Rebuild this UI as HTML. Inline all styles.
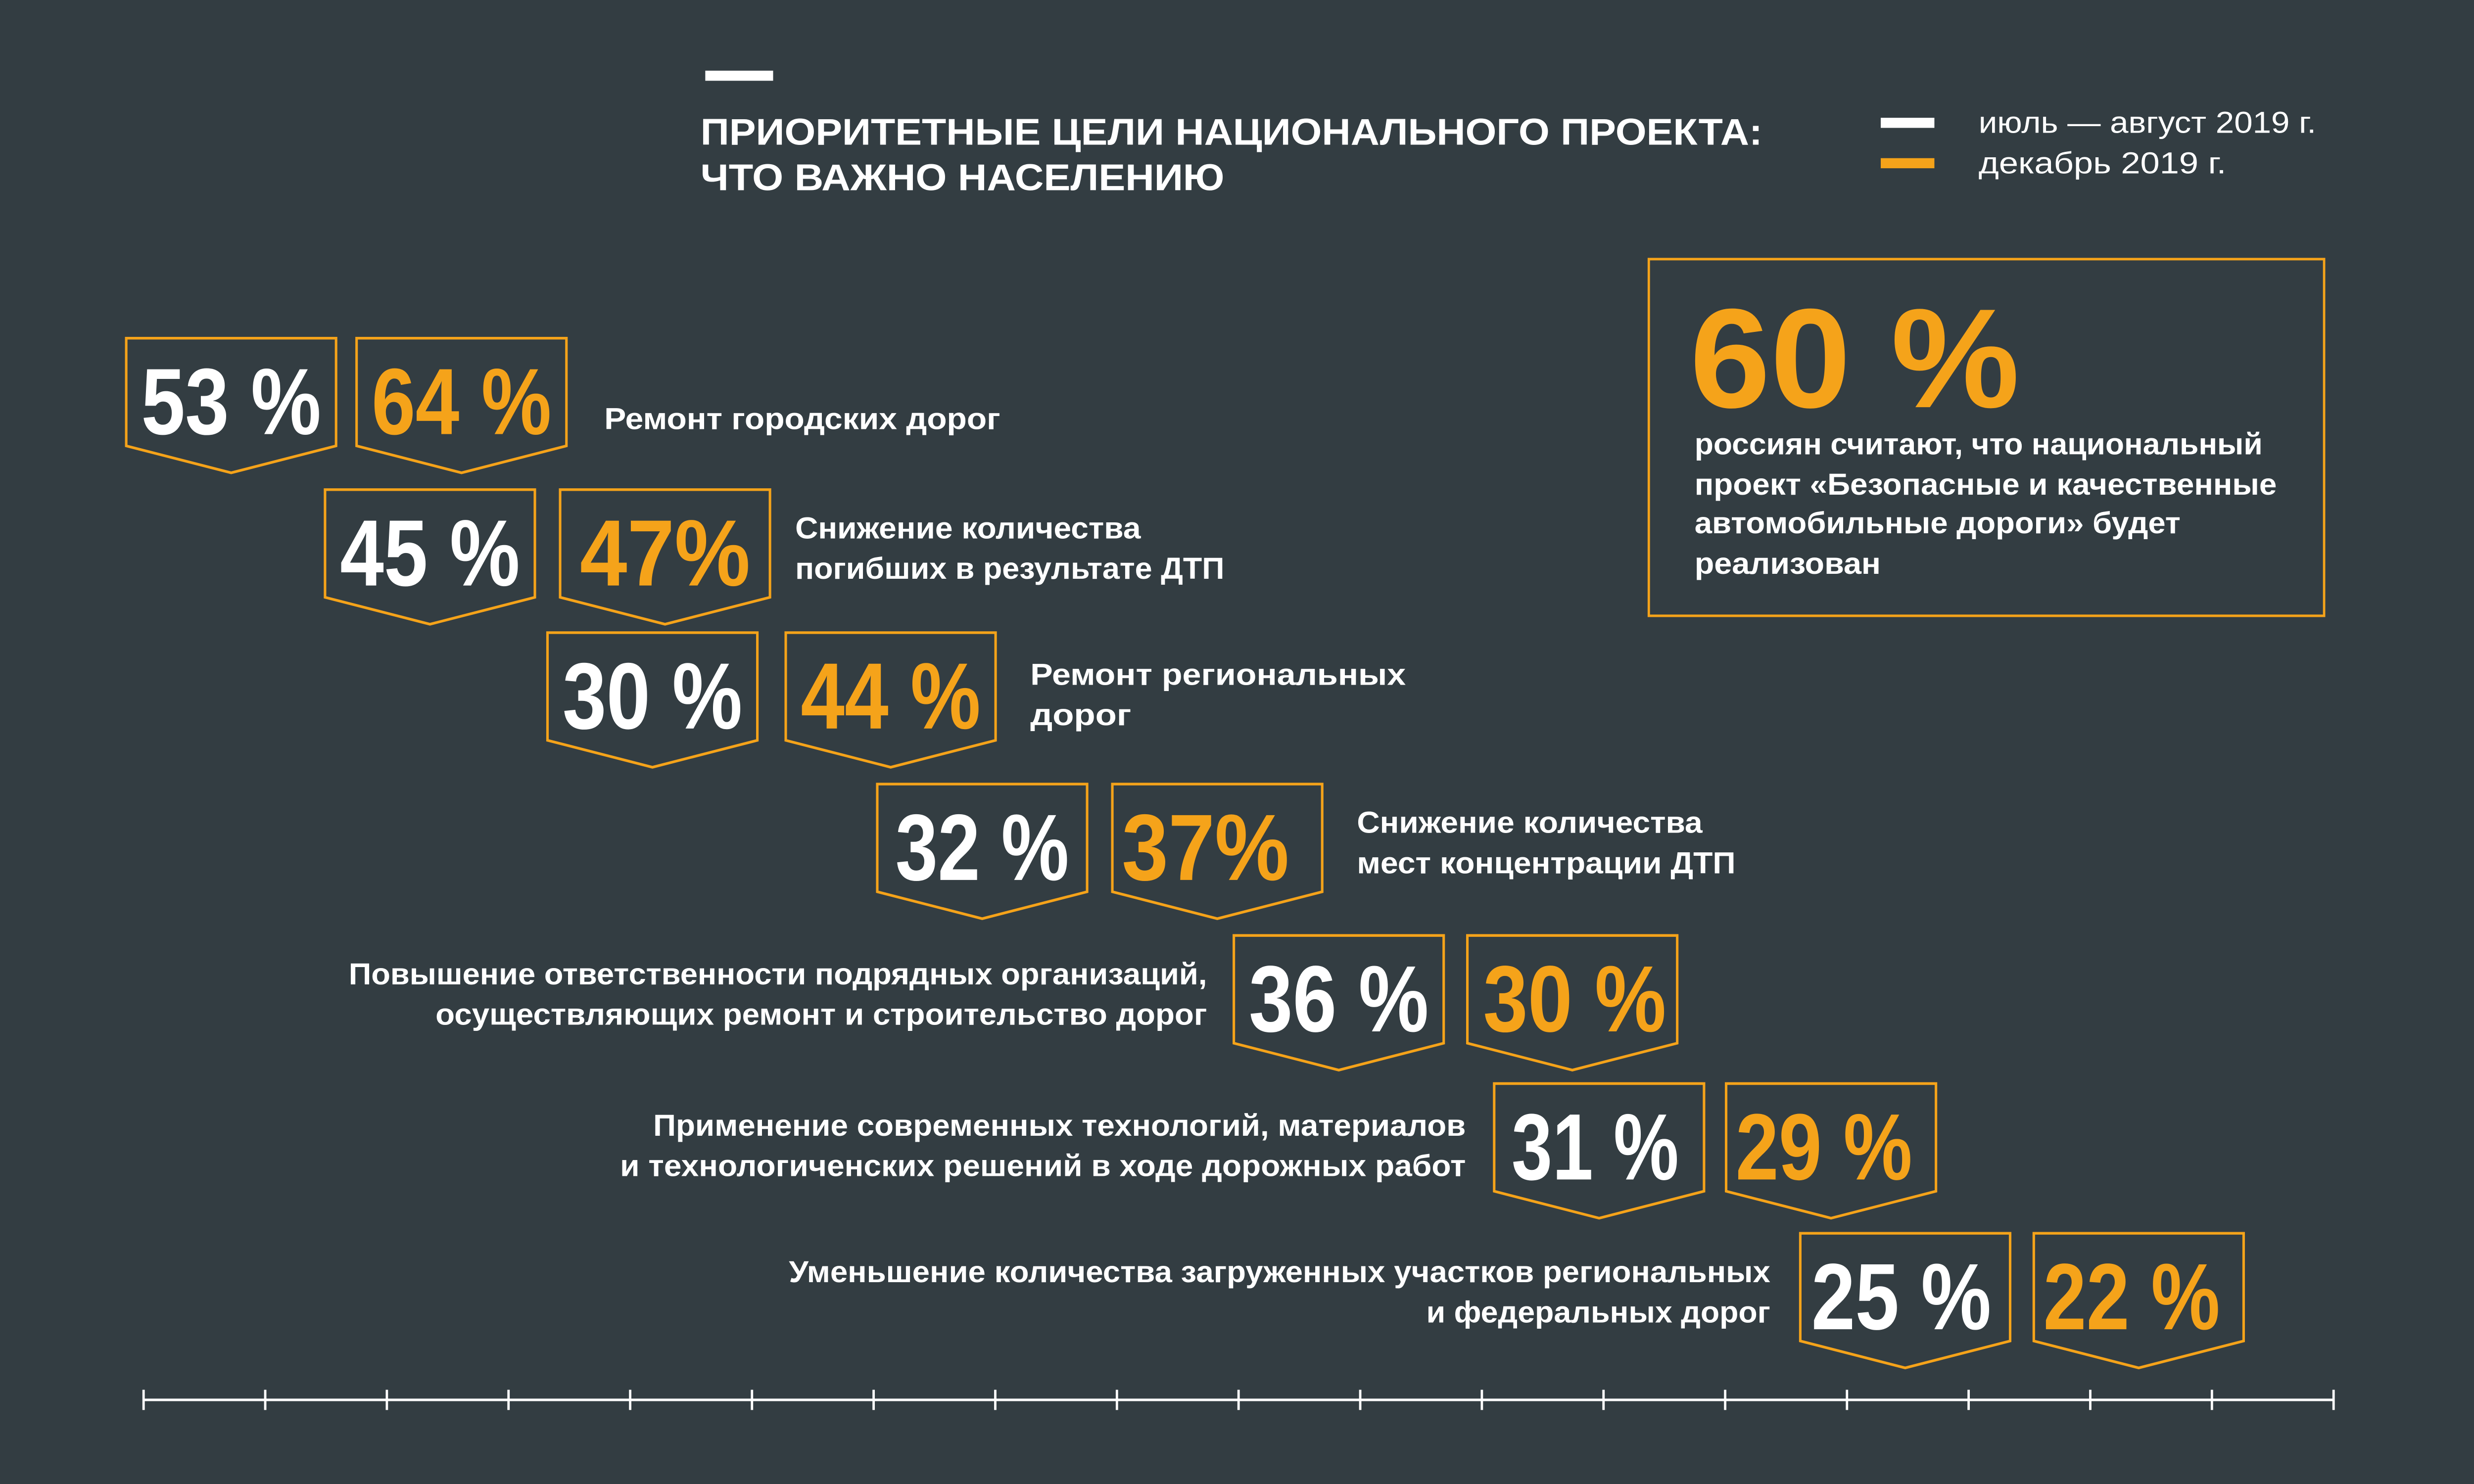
<!DOCTYPE html>
<html><head><meta charset="utf-8"><style>
html,body{margin:0;padding:0;background:#333d42;overflow:hidden;width:100vw;height:100vh;}
svg{display:block;width:100vw;height:100vh;}
text{font-family:"Liberation Sans",sans-serif;}
</style></head><body>
<svg viewBox="0 0 1568 882" preserveAspectRatio="none" xmlns="http://www.w3.org/2000/svg">
<rect width="1568" height="882" fill="#333d42"/>
<rect x="447" y="42" width="43" height="6" fill="#fff"/>
<g font-weight="bold" font-size="22" fill="#fff">
<text x="444" y="86" textLength="673" lengthAdjust="spacingAndGlyphs">ПРИОРИТЕТНЫЕ ЦЕЛИ НАЦИОНАЛЬНОГО ПРОЕКТА:</text>
<text x="444" y="113" textLength="332" lengthAdjust="spacingAndGlyphs">ЧТО ВАЖНО НАСЕЛЕНИЮ</text>
</g>
<rect x="1192" y="70" width="34" height="6" fill="#fff"/>
<rect x="1192" y="94" width="34" height="6" fill="#f5a31a"/>
<g font-size="18" fill="#fff">
<text x="1254" y="79" textLength="214" lengthAdjust="spacingAndGlyphs">июль — август 2019 г.</text>
<text x="1254" y="103" textLength="157" lengthAdjust="spacingAndGlyphs">декабрь 2019  г.</text>
</g>
<rect x="1045" y="154" width="428" height="212" fill="none" stroke="#f5a31a" stroke-width="1.5"/>
<text x="1071" y="242" font-size="84" font-weight="bold" fill="#f5a31a" textLength="209" lengthAdjust="spacingAndGlyphs">60 %</text>
<g font-weight="bold" font-size="18" fill="#fff">
<text x="1074" y="270" textLength="360" lengthAdjust="spacingAndGlyphs">россиян считают, что национальный</text>
<text x="1074" y="294" textLength="369" lengthAdjust="spacingAndGlyphs">проект «Безопасные и качественные</text>
<text x="1074" y="317" textLength="308" lengthAdjust="spacingAndGlyphs">автомобильные дороги» будет</text>
<text x="1074" y="341" textLength="118" lengthAdjust="spacingAndGlyphs">реализован</text>
</g>
<g fill="none" stroke="#f5a31a" stroke-width="1.6">
<path d="M80,201H213V265L146.5,281L80,265Z"/><path d="M226,201H359V265L292.5,281L226,265Z"/>
<path d="M206,291H339V355L272.5,371L206,355Z"/><path d="M355,291H488V355L421.5,371L355,355Z"/>
<path d="M347,376H480V440L413.5,456L347,440Z"/><path d="M498,376H631V440L564.5,456L498,440Z"/>
<path d="M556,466H689V530L622.5,546L556,530Z"/><path d="M705,466H838V530L771.5,546L705,530Z"/>
<path d="M782,556H915V620L848.5,636L782,620Z"/><path d="M930,556H1063V620L996.5,636L930,620Z"/>
<path d="M947,644H1080V708L1013.5,724L947,708Z"/><path d="M1094,644H1227V708L1160.5,724L1094,708Z"/>
<path d="M1141,733H1274V797L1207.5,813L1141,797Z"/><path d="M1289,733H1422V797L1355.5,813L1289,797Z"/>
</g>
<g font-weight="bold" font-size="56" text-anchor="middle">
<text x="146.5" y="258" fill="#fff" textLength="114" lengthAdjust="spacingAndGlyphs">53 %</text>
<text x="292.5" y="258" fill="#f5a31a" textLength="114" lengthAdjust="spacingAndGlyphs">64 %</text>
<text x="272.5" y="348" fill="#fff" textLength="114" lengthAdjust="spacingAndGlyphs">45 %</text>
<text x="421.5" y="348" fill="#f5a31a" textLength="108" lengthAdjust="spacingAndGlyphs">47%</text>
<text x="413.5" y="433" fill="#fff" textLength="114" lengthAdjust="spacingAndGlyphs">30 %</text>
<text x="564.5" y="433" fill="#f5a31a" textLength="114" lengthAdjust="spacingAndGlyphs">44 %</text>
<text x="622.5" y="523" fill="#fff" textLength="110" lengthAdjust="spacingAndGlyphs">32 %</text>
<text x="764" y="523" fill="#f5a31a" textLength="106" lengthAdjust="spacingAndGlyphs">37%</text>
<text x="848.5" y="613" fill="#fff" textLength="114" lengthAdjust="spacingAndGlyphs">36 %</text>
<text x="998" y="613" fill="#f5a31a" textLength="116" lengthAdjust="spacingAndGlyphs">30 %</text>
<text x="1011" y="701" fill="#fff" textLength="106" lengthAdjust="spacingAndGlyphs">31 %</text>
<text x="1156" y="701" fill="#f5a31a" textLength="112" lengthAdjust="spacingAndGlyphs">29 %</text>
<text x="1205" y="790" fill="#fff" textLength="114" lengthAdjust="spacingAndGlyphs">25 %</text>
<text x="1351" y="790" fill="#f5a31a" textLength="112" lengthAdjust="spacingAndGlyphs">22 %</text>
</g>
<g font-weight="bold" font-size="18" fill="#fff">
<text x="383" y="255" textLength="251" lengthAdjust="spacingAndGlyphs">Ремонт городских дорог</text>
<text x="504" y="320" textLength="219" lengthAdjust="spacingAndGlyphs">Снижение количества</text>
<text x="504" y="344" textLength="272" lengthAdjust="spacingAndGlyphs">погибших в результате ДТП</text>
<text x="653" y="407" textLength="238" lengthAdjust="spacingAndGlyphs">Ремонт региональных</text>
<text x="653" y="431" textLength="64" lengthAdjust="spacingAndGlyphs">дорог</text>
<text x="860" y="495" textLength="219" lengthAdjust="spacingAndGlyphs">Снижение количества</text>
<text x="860" y="519" textLength="240" lengthAdjust="spacingAndGlyphs">мест концентрации ДТП</text>
<text x="221" y="585" textLength="544" lengthAdjust="spacingAndGlyphs">Повышение ответственности подрядных организаций,</text>
<text x="276" y="609" textLength="489" lengthAdjust="spacingAndGlyphs">осуществляющих ремонт и строительство дорог</text>
<text x="414" y="675" textLength="515" lengthAdjust="spacingAndGlyphs">Применение современных технологий, материалов</text>
<text x="393" y="699" textLength="536" lengthAdjust="spacingAndGlyphs">и технологиченских решений в ходе дорожных работ</text>
<text x="500" y="762" textLength="622" lengthAdjust="spacingAndGlyphs">Уменьшение количества загруженных участков региональных</text>
<text x="904" y="786" textLength="218" lengthAdjust="spacingAndGlyphs">и федеральных дорог</text>
</g>
<g stroke="#fff" stroke-width="1.5">
<line x1="91" y1="832" x2="1479" y2="832"/>
<path d="M91,826V838M168.1,826V838M245.2,826V838M322.3,826V838M399.4,826V838M476.6,826V838M553.7,826V838M630.8,826V838M707.9,826V838M785,826V838M862.1,826V838M939.2,826V838M1016.3,826V838M1093.4,826V838M1170.6,826V838M1247.7,826V838M1324.8,826V838M1401.9,826V838M1479,826V838"/>
</g>
</svg>
</body></html>
